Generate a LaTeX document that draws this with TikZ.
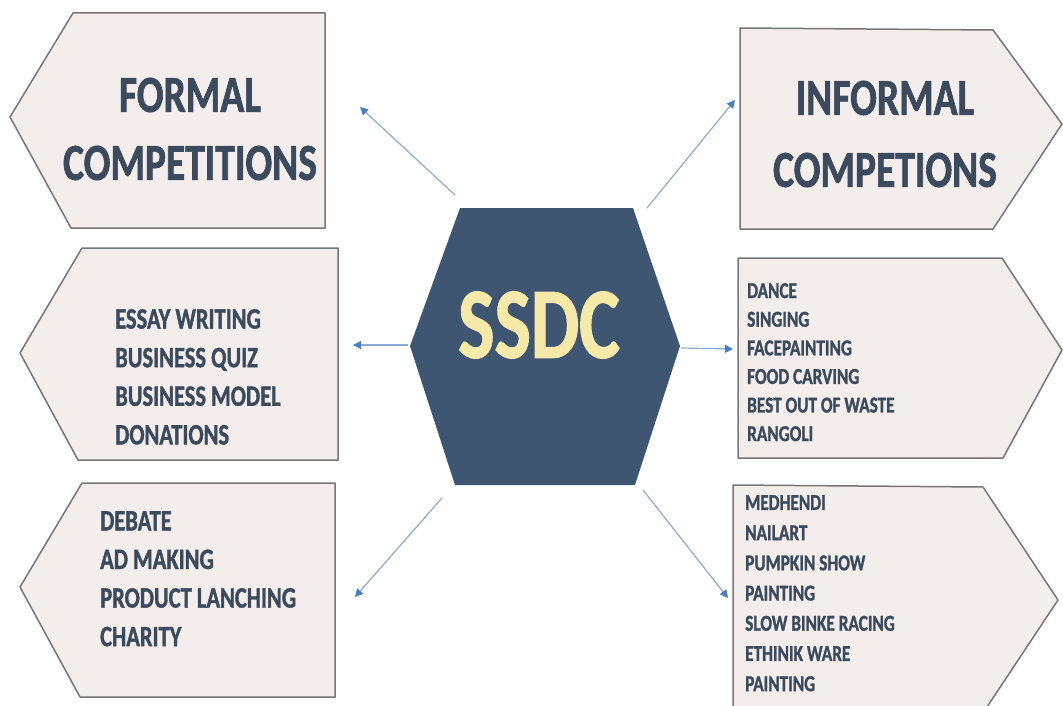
\documentclass[tikz,border=0pt]{standalone}
\usepackage{fontspec}
\setmainfont[FakeStretch=0.76,BoldFeatures={FakeBold=1.2}]{Carlito}
\usetikzlibrary{arrows.meta}
\definecolor{boxfill}{RGB}{243,238,235}
\definecolor{boxline}{RGB}{118,118,118}
\definecolor{hexfill}{RGB}{63,86,115}
\definecolor{txt}{RGB}{59,74,92}
\definecolor{arr}{RGB}{140,170,210}
\definecolor{arrtip}{RGB}{74,127,192}
\definecolor{ssdcyel}{RGB}{247,233,168}
\begin{document}
\begin{tikzpicture}[x=1pt,y=-1pt,
    pbox/.style={fill=boxfill,draw=boxline,line width=1.5pt,line join=round},
    conn/.style={draw=arr,line width=1.2pt,-{Triangle[length=8pt,width=8pt,color=arrtip]}},
    ttl/.style={txt,align=center,inner sep=0pt,font=\fontsize{52}{68}\selectfont\bfseries},
    lst/.style={txt,align=left,inner sep=0pt,anchor=north west,font=\fontsize{29.6}{38.6}\selectfont\bfseries},
    slst/.style={txt,align=left,inner sep=0pt,anchor=north west,font=\fontsize{22.7}{28.6}\selectfont\bfseries}]
  \useasboundingbox (0,0) rectangle (1063,706);
  %boxes
  \draw[pbox] (73,13) -- (325,13) -- (325,228) -- (71,228) -- (10,117) -- cycle;
  \draw[pbox] (740,28) -- (993,30) -- (1062,124) -- (993,229) -- (740,229) -- cycle;
  \draw[pbox] (82,248) -- (338,248) -- (338,460) -- (78,460) -- (20,353) -- cycle;
  \draw[pbox] (738,258) -- (1002,258) -- (1062,350) -- (1003,458) -- (738,458) -- cycle;
  \draw[pbox] (82,483) -- (335,483) -- (335,697) -- (80,697) -- (20,587) -- cycle;
  \draw[pbox] (733,485) -- (983,487) -- (1058,600) -- (983,713) -- (733,713) -- cycle;
  %hexagon
  \fill[hexfill] (460,208) -- (633,208) -- (680,346) -- (635,485) -- (455,485) -- (410,346) -- cycle;
  \node[ssdcyel,inner sep=0pt,font=\fontsize{101}{110}\selectfont\bfseries] (ssdc) at (539,325) {SSDC};
  %texts
  \node[ttl] (formal) at (190,129) {FORMAL\\COMPETITIONS};
  \node[ttl,font=\fontsize{52}{72}\selectfont\bfseries] (informal) at (885,134) {INFORMAL\\COMPETIONS};
  \node[lst] (essay) at (115,309) {ESSAY WRITING\\BUSINESS QUIZ\\BUSINESS MODEL\\DONATIONS};
  \node[lst] (debate) at (100,511) {DEBATE\\AD MAKING\\PRODUCT LANCHING\\CHARITY};
  \node[slst] (dance) at (747,283) {DANCE\\SINGING\\FACEPAINTING\\FOOD CARVING\\BEST OUT OF WASTE\\RANGOLI};
  \node[slst,font=\fontsize{22.7}{30.2}\selectfont\bfseries] (medhendi) at (745,495) {MEDHENDI\\NAILART\\PUMPKIN SHOW\\PAINTING\\SLOW BINKE RACING\\ETHINIK WARE\\PAINTING};
  %arrows
  \coordinate (s1) at (455,195); \coordinate (e1) at (360,107);
  \coordinate (s2) at (647,208); \coordinate (e2) at (735,100);
  \coordinate (s3) at (408,345); \coordinate (e3) at (353,345);
  \coordinate (s4) at (681,348); \coordinate (e4) at (733,349);
  \coordinate (s5) at (442,498); \coordinate (e5) at (355,597);
  \coordinate (s6) at (643,490); \coordinate (e6) at (728,598);
  \foreach \i in {1,...,6}
    \draw[conn] (s\i) -- (e\i);
\end{tikzpicture}
\end{document}
